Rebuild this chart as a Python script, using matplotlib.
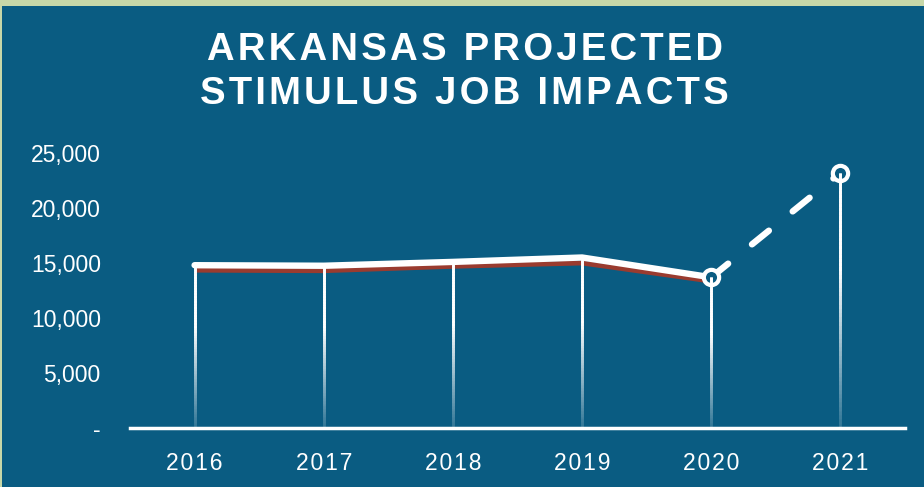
import numpy as np
import matplotlib
matplotlib.use("Agg")
from matplotlib import pyplot as plt
from matplotlib.collections import LineCollection
from matplotlib.colors import to_rgb

# Data
years = ["2016", "2017", "2018", "2019", "2020", "2021"]
projected = [14800, 14750, 15100, 15500, 13700, 23200]
baseline = [14350, 14300, 14700, 15000, 13350]
yticks = [0, 5000, 10000, 15000, 20000, 25000]
ytick_labels = ["-", "5,000", "10,000", "15,000", "20,000", "25,000"]
title = "ARKANSAS PROJECTED\nSTIMULUS JOB IMPACTS"

bg = "#0a5c82"
border = "#c7d7a8"
red = "#9a3b2f"

plt.rcParams["font.family"] = ["Liberation Sans", "DejaVu Sans"]

fig = plt.figure(figsize=(9.24, 4.87), dpi=100)
fig.patch.set_facecolor(border)

# blue panel behind everything
bax = fig.add_axes([2 / 924, 0, 922 / 924, 481 / 487], zorder=0)
bax.set_facecolor(bg)
bax.set_xticks([])
bax.set_yticks([])
for s in bax.spines.values():
    s.set_visible(False)

ax = fig.add_axes([130 / 924, 59 / 487, 775 / 924, 275 / 487], zorder=1)
ax.set_facecolor("none")
x = np.arange(len(years))

# gradient drop lines (opaque blend of white into background)
bg_rgb = np.array(to_rgb(bg))
segs, cols = [], []
n = 60
for xi, v in zip(x, projected):
    ys = np.linspace(0, v, n + 1)
    for k in range(n):
        top = ys[min(k + 2, n)]
        segs.append([(xi, ys[k]), (xi, top)])
        t = (k + 0.5) / n
        a = 0.15 + 0.85 * min(1, t * 1.6)
        cols.append(tuple(bg_rgb * (1 - a) + a))

# lines
ax.plot(x[:5], baseline, color=red, lw=3.5, solid_capstyle="butt", zorder=3)
ax.plot(x[:5], projected[:5], color="white", lw=4.6, solid_capstyle="round",
        solid_joinstyle="round", zorder=4)
ax.plot(x[4:], projected[4:], color="white", lw=4.6, dashes=(3.4, 4.8),
        dash_capstyle="round", zorder=4)
ax.plot(x[4:], projected[4:], "o", ms=11, mfc=bg, mec="white", mew=3,
        zorder=5, clip_on=False)
ax.add_collection(LineCollection(segs, colors=cols, linewidths=2,
                                 capstyle="butt", zorder=6))

ax.set_xlim(-0.5, 5.5)
ax.set_ylim(0, 25000)
ax.set_xticks(x)
ax.set_xticklabels(["\u200a".join(y) for y in years])
ax.set_yticks(yticks)
ax.set_yticklabels(ytick_labels)
ax.tick_params(axis="x", length=0, pad=17, labelsize=16.5, labelcolor="white")
ax.tick_params(axis="y", length=0, pad=21, labelsize=16.5, labelcolor="white")
for s in ["top", "right", "left"]:
    ax.spines[s].set_visible(False)
ax.spines["bottom"].set_color("white")
ax.spines["bottom"].set_linewidth(2.5)
ax.spines["bottom"].set_zorder(7)

spaced = "\n".join("\u200a".join(line) for line in title.split("\n"))
fig.text(0.503, 0.852, spaced, ha="center", va="center", color="white",
         fontsize=27.5, fontweight="bold", linespacing=1.3, zorder=3)

fig.savefig("out.png", dpi=100, facecolor=fig.get_facecolor())
